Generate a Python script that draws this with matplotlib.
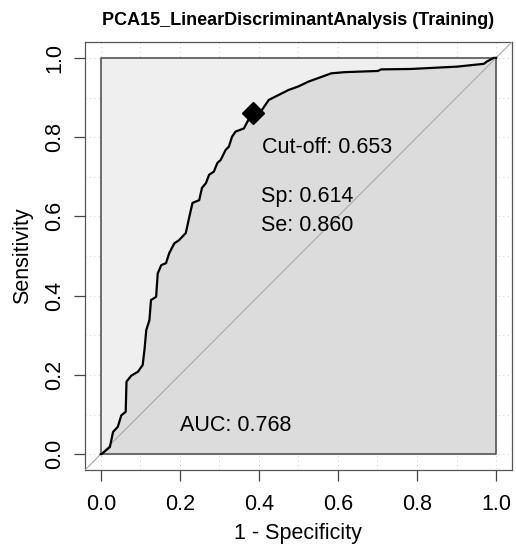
import matplotlib.pyplot as plt
import numpy as np

plt.rcParams['font.family'] = ['Liberation Sans', 'DejaVu Sans']

# ROC curve (1 - specificity, sensitivity)
fpr = [0.0, 0.002, 0.023, 0.031, 0.043, 0.052, 0.063, 0.065, 0.077, 0.094,
       0.106, 0.111, 0.115, 0.123, 0.127, 0.140, 0.144, 0.153, 0.165, 0.173,
       0.186, 0.198, 0.215, 0.224, 0.232, 0.249, 0.256, 0.266, 0.274, 0.286,
       0.295, 0.303, 0.316, 0.324, 0.332, 0.341, 0.362, 0.382, 0.408, 0.425,
       0.441, 0.475, 0.500, 0.525, 0.550, 0.583, 0.617, 0.701, 0.709, 0.784,
       0.902, 0.969, 0.977, 0.994, 1.0]
tpr = [0.0, 0.0, 0.018, 0.056, 0.069, 0.098, 0.107, 0.183, 0.198, 0.208,
       0.225, 0.268, 0.313, 0.338, 0.389, 0.397, 0.456, 0.477, 0.482, 0.507,
       0.532, 0.540, 0.558, 0.599, 0.634, 0.641, 0.672, 0.684, 0.705, 0.713,
       0.735, 0.742, 0.768, 0.776, 0.801, 0.814, 0.822, 0.860, 0.869, 0.894,
       0.902, 0.919, 0.928, 0.940, 0.949, 0.961, 0.964, 0.967, 0.971, 0.972,
       0.978, 0.985, 0.991, 1.0, 1.0]

cutoff = 0.653
sp = 0.614
se = 0.860
auc = 0.768
title = "PCA15_LinearDiscriminantAnalysis (Training)"

fig = plt.figure(figsize=(5.16, 5.46), dpi=100)
ax = fig.add_axes([0.1647, 0.1392, 0.8273, 0.7838])
ax.set_xlim(-0.04, 1.04)
ax.set_ylim(-0.04, 1.04)

# dotted grid behind everything
for g in np.arange(0, 1.01, 0.1):
    ax.axvline(g, color='#d3d3d3', lw=0.8, ls=(0, (1, 3)), zorder=0)
    ax.axhline(g, color='#d3d3d3', lw=0.8, ls=(0, (1, 3)), zorder=0)

# unit square background + area under the curve
ax.fill([0, 1, 1, 0], [0, 0, 1, 1], color='#efefef', zorder=1)
ax.fill_between(fpr, tpr, 0, color='#dcdcdc', lw=0, zorder=2)
ax.plot([0, 1, 1, 0, 0], [0, 0, 1, 1, 0], color='#555555', lw=1.2, zorder=3)

# chance line
ax.plot([-0.1, 1.1], [-0.1, 1.1], color='#a8a8a8', lw=0.8, zorder=3)

ax.plot(fpr, tpr, color='black', lw=1.6, zorder=4)
ax.plot(1 - sp, se, marker='D', color='black', ms=11, zorder=5)

ax.text(0.407, 0.775, f"Cut-off: {cutoff:.3f}", fontsize=15.5, va='center')
ax.text(0.405, 0.649, f"Sp: {sp:.3f}", fontsize=15.5, va='center')
ax.text(0.405, 0.578, f"Se: {se:.3f}", fontsize=15.5, va='center')
ax.text(0.201, 0.073, f"AUC: {auc:.3f}", fontsize=15.5, va='center')

ticks = [0.0, 0.2, 0.4, 0.6, 0.8, 1.0]
ax.set_xticks(ticks)
ax.set_yticks(ticks)
ax.set_xticklabels([f"{t:.1f}" for t in ticks], fontsize=15.5)
ax.set_yticklabels([f"{t:.1f}" for t in ticks], fontsize=15.5, rotation=90, va='center')
ax.tick_params(length=8, width=0.9, color='#444444', pad=9)
ax.tick_params(axis='y', pad=6)
for s in ax.spines.values():
    s.set_color('#555555')
    s.set_linewidth(0.9)

ax.set_xlabel("1 - Specificity", fontsize=15.5, labelpad=6)
ax.set_ylabel("Sensitivity", fontsize=15.5, labelpad=8)
ax.set_title(title, fontsize=13, fontweight='bold', pad=12)

fig.savefig("out.png", dpi=100)
